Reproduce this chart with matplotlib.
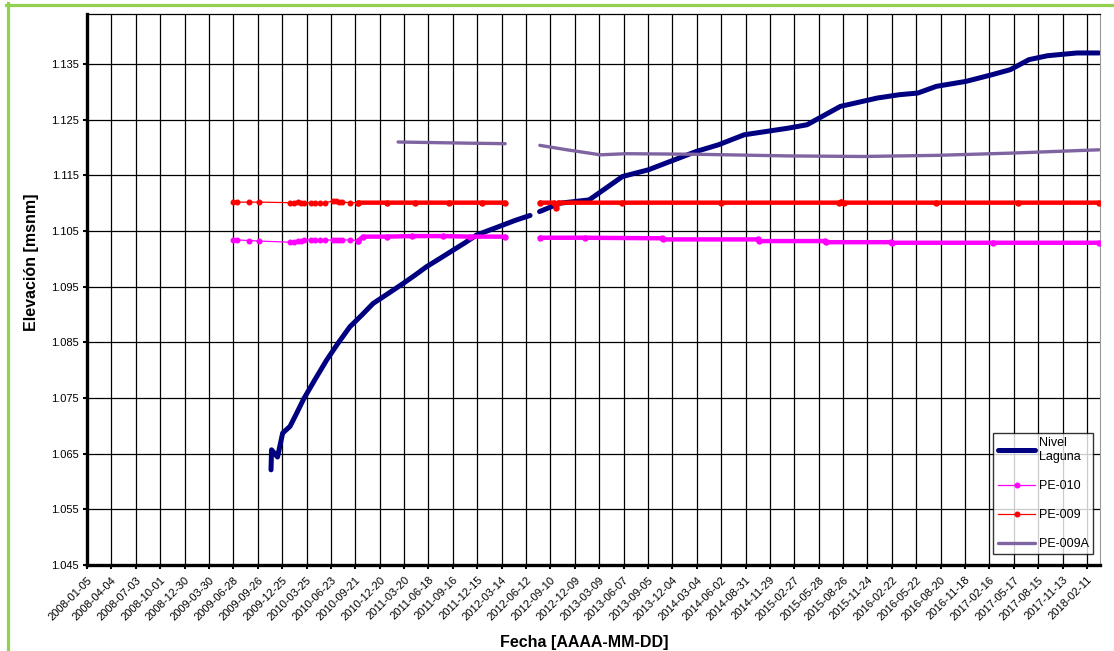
import matplotlib
matplotlib.use("Agg")
import matplotlib.pyplot as plt
import matplotlib.dates as mdates
from matplotlib.lines import Line2D
import numpy as np
from datetime import datetime

plt.rcParams['font.family'] = ['Liberation Sans', 'DejaVu Sans']

# ---------------- data ----------------
x_tick_labels = [
    "2008-01-05", "2008-04-04", "2008-07-03", "2008-10-01", "2008-12-30",
    "2009-03-30", "2009-06-28", "2009-09-26", "2009-12-25", "2010-03-25",
    "2010-06-23", "2010-09-21", "2010-12-20", "2011-03-20", "2011-06-18",
    "2011-09-16", "2011-12-15", "2012-03-14", "2012-06-12", "2012-09-10",
    "2012-12-09", "2013-03-09", "2013-06-07", "2013-09-05", "2013-12-04",
    "2014-03-04", "2014-06-02", "2014-08-31", "2014-11-29", "2015-02-27",
    "2015-05-28", "2015-08-26", "2015-11-24", "2016-02-22", "2016-05-22",
    "2016-08-20", "2016-11-18", "2017-02-16", "2017-05-17", "2017-08-15",
    "2017-11-13", "2018-02-11",
]
x_range = ["2008-01-05", "2018-03-31"]
y_ticks = [1045, 1055, 1065, 1075, 1085, 1095, 1105, 1115, 1125, 1135]
y_range = [1045, 1144]

# Nivel Laguna (None = gap in record)
nivel_dates = [
    "2009-11-14", "2009-11-16", "2009-12-08", "2009-12-27", "2010-01-23",
    "2010-02-17", "2010-03-13", "2010-04-25", "2010-06-07", "2010-07-20",
    "2010-09-01", "2010-10-15", "2010-11-26", "2011-01-21", "2011-03-17",
    "2011-04-30", "2011-06-11", "2011-07-31", "2011-09-18", "2011-10-31",
    "2011-12-13", "2012-01-31", "2012-03-20", "2012-05-02", "2012-06-14",
    "2012-06-27", "2012-07-15", "2012-08-01",
    "2012-10-14", "2013-01-31", "2013-06-03", "2013-09-06", "2014-03-02",
    "2014-05-23", "2014-08-26", "2015-02-06", "2015-04-15", "2015-08-16",
    "2015-12-30", "2016-03-21", "2016-05-28", "2016-08-04", "2016-11-22",
    "2017-02-26", "2017-05-04", "2017-07-12", "2017-09-18", "2018-01-05",
    "2018-03-27",
]
nivel_vals = [
    1062.1, 1065.7, 1064.4, 1068.7, 1069.9,
    1072.3, 1074.7, 1078.3, 1081.8, 1084.9,
    1087.8, 1089.9, 1092.0, 1093.8, 1095.6,
    1097.1, 1098.6, 1100.1, 1101.6, 1102.9,
    1104.3, 1105.2, 1106.1, 1106.9, 1107.6,
    1107.8, None, 1108.5,
    1110.0, 1110.6, 1114.8, 1116.0, 1119.3,
    1120.5, 1122.3, 1123.5, 1124.1, 1127.4,
    1128.9, 1129.5, 1129.8, 1131.0, 1131.9,
    1133.1, 1134.0, 1135.8, 1136.5, 1137.0,
    1137.0,
]

# PE-010: sparse readings, then continuous record
pe010_sparse_dates = [
    "2009-06-28", "2009-07-12", "2009-08-26", "2009-10-02", "2010-01-23",
    "2010-02-07", "2010-02-21", "2010-03-05", "2010-03-16", "2010-04-11",
    "2010-04-26", "2010-05-14", "2010-06-01", "2010-07-02", "2010-07-12",
    "2010-07-23", "2010-08-02", "2010-09-01", "2010-10-02",
]
pe010_sparse_vals = [
    1103.4, 1103.4, 1103.3, 1103.2, 1103.0,
    1103.1, 1103.2, 1103.3, 1103.4, 1103.4,
    1103.4, 1103.4, 1103.4, 1103.4, 1103.4,
    1103.4, 1103.4, 1103.4, 1103.3,
]
pe010_cont_dates = [
    "2010-10-02", "2010-10-20", "2011-01-15", "2011-04-20", "2011-08-10",
    "2011-11-20", "2012-03-27", "2012-06-15", "2012-08-02", "2013-01-15",
    "2013-10-25", "2013-10-29", "2014-10-15", "2014-10-20", "2015-06-20",
    "2015-06-23", "2016-02-20", "2016-02-22", "2017-03-01", "2018-03-27",
]
pe010_cont_vals = [
    1103.3, 1104.0, 1104.0, 1104.1, 1104.1,
    1104.0, 1104.0, None, 1103.8, 1103.8,
    1103.7, 1103.5, 1103.5, 1103.2, 1103.2,
    1103.0, 1103.0, 1102.9, 1102.9, 1102.9,
]

# PE-009
pe009_sparse_dates = pe010_sparse_dates
pe009_sparse_vals = [
    1110.2, 1110.2, 1110.2, 1110.2, 1110.1,
    1110.1, 1110.2, 1110.1, 1110.1, 1110.1,
    1110.1, 1110.1, 1110.1, 1110.4, 1110.4,
    1110.3, 1110.2, 1110.1, 1110.1,
]
pe009_cont_dates = [
    "2010-10-02", "2011-01-15", "2011-05-01", "2011-09-01", "2012-01-01",
    "2012-03-27", "2012-06-15", "2012-08-02", "2012-09-25", "2012-10-02",
    "2012-10-09", "2013-06-01", "2014-06-01", "2015-08-10", "2015-08-19",
    "2015-08-28", "2016-08-01", "2017-06-01", "2018-03-27",
]
pe009_cont_vals = [
    1110.1, 1110.1, 1110.1, 1110.1, 1110.1,
    1110.1, None, 1110.1, 1110.1, 1109.2,
    1110.1, 1110.1, 1110.1, 1110.1, 1110.3,
    1110.1, 1110.1, 1110.1, 1110.1,
]

# PE-009A
pe009a_dates = [
    "2011-02-26", "2011-07-01", "2011-11-01", "2012-03-27", "2012-06-15",
    "2012-08-02", "2012-11-10", "2013-03-13", "2013-06-16", "2014-03-01",
    "2015-02-06", "2015-11-06", "2016-08-04", "2017-05-04", "2018-03-27",
]
pe009a_vals = [
    1121.0, 1120.9, 1120.8, 1120.7, None,
    1120.4, 1119.6, 1118.7, 1118.9, 1118.8,
    1118.5, 1118.4, 1118.6, 1119.0, 1119.6,
]

# ---------------- helpers ----------------
def to_dt(lst):
    return [datetime.strptime(s, "%Y-%m-%d") for s in lst]

def to_arr(lst):
    return np.array([np.nan if v is None else v for v in lst], dtype=float)

# ---------------- figure ----------------
fig = plt.figure(figsize=(11.14, 6.51), dpi=100)
ax = fig.add_axes([87 / 1114, 1 - 565 / 651, (1100 - 87) / 1114, (565 - 14) / 651])

NAVY = '#000080'
MAG = '#FF00FF'
RED = '#FF0000'
PURP = '#8064A2'

ax.plot(to_dt(nivel_dates), to_arr(nivel_vals), color=NAVY, lw=3.6,
        solid_capstyle='round', solid_joinstyle='round', zorder=3,
        label='Nivel\nLaguna')

ax.plot(to_dt(pe010_sparse_dates), to_arr(pe010_sparse_vals), color=MAG, lw=0.9,
        marker='o', ms=3.3, zorder=4, label='PE-010')
ax.plot(to_dt(pe010_cont_dates), to_arr(pe010_cont_vals), color=MAG, lw=3.2,
        solid_capstyle='round', marker='o', ms=3.6, zorder=4)

ax.plot(to_dt(pe009_sparse_dates), to_arr(pe009_sparse_vals), color=RED, lw=0.9,
        marker='o', ms=3.3, zorder=4, label='PE-009')
ax.plot(to_dt(pe009_cont_dates), to_arr(pe009_cont_vals), color=RED, lw=3.2,
        solid_capstyle='round', marker='o', ms=3.6, zorder=4)

ax.plot(to_dt(pe009a_dates), to_arr(pe009a_vals), color=PURP, lw=2.4,
        solid_capstyle='round', zorder=4, label='PE-009A')

# axes styling
xt = mdates.date2num(to_dt(x_tick_labels))
ax.set_xticks(xt)
ax.set_xticklabels(x_tick_labels, rotation=45, ha='right', va='top',
                   rotation_mode='anchor', fontsize=8)
xr = mdates.date2num(to_dt(x_range))
ax.set_xlim(xr[0], xr[1])
ax.set_ylim(y_range[0], y_range[1])
ax.set_yticks(y_ticks)
ax.set_yticklabels([f"{v // 1000}.{v % 1000:03d}" for v in y_ticks], fontsize=8)

ax.grid(True, color='black', lw=0.9, zorder=1)
ax.set_axisbelow(True)
ax.tick_params(axis='both', direction='out', length=3, width=1.5, pad=3)
ax.tick_params(axis='x', pad=4)

ax.spines['left'].set_linewidth(2.4)
ax.spines['bottom'].set_linewidth(2.4)
ax.spines['top'].set_linewidth(0.9)
ax.spines['right'].set_color('#999999')
ax.spines['right'].set_linewidth(0.8)

ax.set_ylabel('Elevación [msnm]', fontsize=11.5, fontweight='bold')
ax.yaxis.set_label_coords(-0.047, 0.55)
ax.set_xlabel('Fecha [AAAA-MM-DD]', fontsize=11.5, fontweight='bold')
ax.xaxis.set_label_coords(0.491, -0.14)
ax.xaxis.label.set_va('center')

leg = ax.legend(loc='lower right', bbox_to_anchor=(0.9935, 0.0195),
                borderaxespad=0, fontsize=9, frameon=True, fancybox=False,
                handlelength=3.0, handletextpad=0.3, labelspacing=1.35,
                borderpad=0.35)
leg.get_frame().set_edgecolor('black')
leg.get_frame().set_linewidth(1.0)
leg.set_zorder(10)

# green outer border (left and top)
fig.add_artist(Line2D([7.7 / 1114, 7.7 / 1114], [0, 1 - 3 / 651],
                      transform=fig.transFigure, color='#92D050', lw=2.3))
fig.add_artist(Line2D([6 / 1114, 1], [1 - 5 / 651, 1 - 5 / 651],
                      transform=fig.transFigure, color='#92D050', lw=2.3))

fig.savefig('out.png', dpi=100)
